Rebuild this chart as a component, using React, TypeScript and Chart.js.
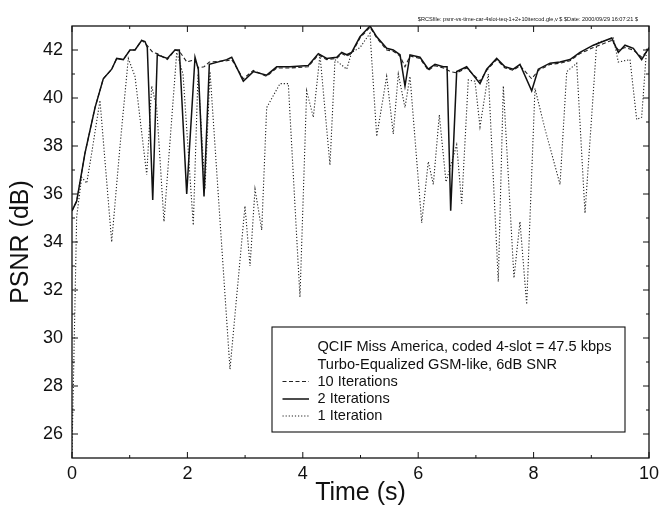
import React, { useEffect, useRef } from 'react';
import { Chart, registerables } from 'chart.js';

Chart.register(...registerables);

const FONT = "'Liberation Sans', Arial, Helvetica, sans-serif";
const INK = '#111';

// Axis ticks
const xTickValues = [0, 2, 4, 6, 8, 10];
const xMinorValues = [1, 3, 5, 7, 9];
const yTickValues = [26, 28, 30, 32, 34, 36, 38, 40, 42];
const yMinorValues = [27, 29, 31, 33, 35, 37, 39, 41];

// Texts
const headerText = '$RCSfile: psnr-vs-time-car-4slot-teq-1+2+10itercod.gle,v $ $Date: 2000/09/29 16:07:21 $';
const legendTitleLines = ['QCIF Miss America, coded 4-slot = 47.5 kbps', 'Turbo-Equalized GSM-like, 6dB SNR'];
const seriesLabels = ['10 Iterations', '2 Iterations', '1 Iteration'];

// 2 iterations (solid)
const time2 = [0, 0.081, 0.225, 0.399, 0.542, 0.688, 0.775, 0.889, 1.005, 1.092, 1.208, 1.265, 1.305, 1.399, 1.478, 1.652, 1.785, 1.86, 1.988, 2.132, 2.189, 2.288, 2.38, 2.681, 2.768, 2.969, 3.142, 3.374, 3.548, 3.778, 4.095, 4.269, 4.414, 4.588, 4.674, 4.761, 4.847, 4.991, 5.165, 5.281, 5.454, 5.568, 5.685, 5.771, 5.858, 6.031, 6.175, 6.291, 6.435, 6.5, 6.563, 6.667, 6.84, 7.071, 7.187, 7.36, 7.504, 7.648, 7.764, 7.967, 8.081, 8.284, 8.458, 8.631, 8.804, 9.035, 9.354, 9.468, 9.584, 9.728, 9.873, 10.0];
const psnr2 = [35.3, 35.7, 37.7, 39.6, 40.8, 41.2, 41.65, 41.6, 42.0, 42.0, 42.4, 42.35, 42.1, 35.75, 41.8, 41.65, 42.0, 42.0, 36.0, 41.7, 41.2, 35.9, 41.4, 41.6, 41.7, 40.7, 41.1, 40.95, 41.3, 41.3, 41.35, 41.85, 41.65, 41.7, 41.9, 41.8, 41.9, 42.55, 43.0, 42.55, 42.07, 42.0, 41.8, 40.5, 41.8, 41.7, 41.2, 41.4, 41.3, 41.3, 35.3, 41.1, 41.3, 40.6, 41.2, 41.65, 41.3, 41.2, 41.4, 40.3, 41.2, 41.45, 41.5, 41.6, 41.9, 42.2, 42.5, 41.9, 42.2, 42.07, 41.6, 42.1];

// 10 iterations (dashed)
const time10 = [0, 0.081, 0.225, 0.399, 0.542, 0.688, 0.775, 0.889, 1.005, 1.092, 1.208, 1.265, 1.4, 1.478, 1.652, 1.785, 1.86, 1.99, 2.132, 2.189, 2.288, 2.38, 2.681, 2.768, 2.969, 3.142, 3.374, 3.548, 3.778, 4.095, 4.269, 4.414, 4.588, 4.674, 4.761, 4.847, 4.991, 5.165, 5.281, 5.454, 5.568, 5.685, 5.771, 5.858, 6.031, 6.175, 6.291, 6.435, 6.563, 6.667, 6.84, 7.071, 7.187, 7.36, 7.504, 7.648, 7.764, 7.967, 8.081, 8.284, 8.458, 8.631, 8.804, 9.035, 9.354, 9.468, 9.584, 9.728, 9.873, 10.0];
const psnr10 = [35.3, 35.7, 37.7, 39.6, 40.8, 41.2, 41.65, 41.6, 42.0, 42.0, 42.4, 42.3, 41.9, 41.85, 41.6, 42.0, 41.95, 41.5, 41.6, 41.25, 41.3, 41.5, 41.55, 41.6, 40.8, 41.15, 40.9, 41.25, 41.25, 41.3, 41.8, 41.6, 41.65, 41.85, 41.75, 41.85, 42.5, 42.95, 42.5, 42.0, 41.95, 41.75, 41.3, 41.75, 41.65, 41.15, 41.35, 41.25, 41.1, 41.05, 41.25, 40.7, 41.15, 41.6, 41.25, 41.15, 41.35, 40.8, 41.15, 41.4, 41.45, 41.55, 41.85, 42.1, 42.4, 42.0, 42.1, 42.0, 41.7, 42.05];

// 1 iteration (dotted)
const time1 = [0, 0.081, 0.168, 0.255, 0.341, 0.485, 0.688, 0.832, 0.976, 1.092, 1.295, 1.381, 1.468, 1.594, 1.815, 1.924, 2.102, 2.184, 2.305, 2.392, 2.738, 2.998, 3.085, 3.172, 3.288, 3.374, 3.605, 3.749, 3.951, 4.067, 4.182, 4.298, 4.471, 4.558, 4.761, 4.847, 4.991, 5.165, 5.281, 5.454, 5.568, 5.655, 5.771, 5.858, 6.061, 6.175, 6.262, 6.366, 6.482, 6.667, 6.754, 6.868, 6.984, 7.071, 7.215, 7.388, 7.475, 7.66, 7.764, 7.88, 8.024, 8.198, 8.458, 8.574, 8.747, 8.891, 9.094, 9.382, 9.468, 9.671, 9.787, 9.873, 9.96];
const psnr1 = [25.2, 35.05, 36.7, 36.45, 37.7, 39.9, 34.0, 38.0, 41.65, 40.9, 36.8, 40.5, 39.6, 34.85, 41.9, 41.0, 34.7, 41.0, 36.2, 41.1, 28.7, 35.5, 33.0, 36.2, 34.5, 39.6, 40.6, 40.6, 31.7, 40.3, 39.2, 41.8, 37.2, 41.6, 41.2, 41.9, 42.1, 42.7, 38.4, 40.9, 38.5, 41.0, 39.6, 40.9, 34.8, 37.35, 36.4, 39.3, 36.5, 38.05, 35.6, 40.75, 40.7, 38.8, 41.0, 32.35, 40.5, 32.5, 34.85, 31.4, 40.4, 38.7, 36.4, 41.1, 41.45, 35.2, 42.3, 42.5, 41.5, 41.6, 39.1, 39.2, 42.1];

const toPoints = (xs: number[], ys: number[]) => xs.map((x, i) => ({ x, y: ys[i] }));

const framePlugin = {
  id: 'framePlugin',
  afterDatasetsDraw(chart: any) {
    const { ctx, chartArea: a, scales } = chart;
    const xs = scales.x;
    const ys = scales.y;
    ctx.save();
    ctx.setLineDash([]);
    ctx.strokeStyle = INK;
    ctx.lineWidth = 1.3;
    ctx.strokeRect(a.left, a.top, a.right - a.left, a.bottom - a.top);

    const seg = (x1: number, y1: number, x2: number, y2: number) => {
      ctx.beginPath();
      ctx.moveTo(x1, y1);
      ctx.lineTo(x2, y2);
      ctx.stroke();
    };
    ctx.lineWidth = 1;
    const major = 6;
    const minor = 3;
    xTickValues.forEach((v) => {
      const p = xs.getPixelForValue(v);
      seg(p, a.bottom, p, a.bottom - major);
      seg(p, a.top, p, a.top + major);
    });
    xMinorValues.forEach((v) => {
      const p = xs.getPixelForValue(v);
      seg(p, a.bottom, p, a.bottom - minor);
      seg(p, a.top, p, a.top + minor);
    });
    yTickValues.forEach((v) => {
      const p = ys.getPixelForValue(v);
      seg(a.left, p, a.left + major, p);
      seg(a.right, p, a.right - major, p);
    });
    yMinorValues.forEach((v) => {
      const p = ys.getPixelForValue(v);
      seg(a.left, p, a.left + minor, p);
      seg(a.right, p, a.right - minor, p);
    });

    // Legend box
    const bx = a.left + 200;
    const by = a.top + 301;
    const bw = 353;
    const bh = 105;
    ctx.fillStyle = '#fff';
    ctx.fillRect(bx, by, bw, bh);
    ctx.lineWidth = 1.1;
    ctx.strokeStyle = INK;
    ctx.strokeRect(bx, by, bw, bh);

    ctx.fillStyle = INK;
    ctx.font = `14.6px ${FONT}`;
    ctx.textBaseline = 'middle';
    ctx.textAlign = 'left';
    const rowY = [20, 37.5, 54.5, 72, 89];
    const textX = bx + 45.5;
    legendTitleLines.forEach((t, i) => ctx.fillText(t, textX, by + rowY[i]));
    const ds = chart.data.datasets;
    seriesLabels.forEach((t, i) => {
      const d = ds.find((q: any) => q.label === t);
      const y = by + rowY[i + 2];
      ctx.save();
      ctx.strokeStyle = d.borderColor;
      ctx.lineWidth = d.borderWidth;
      ctx.setLineDash(d.borderDash || []);
      seg(bx + 10.5, y, bx + 37, y);
      ctx.restore();
      ctx.fillText(t, textX, y);
    });

    // header
    ctx.font = `5.6px ${FONT}`;
    ctx.textAlign = 'right';
    ctx.textBaseline = 'middle';
    ctx.fillText(headerText, a.right - 11, a.top - 6.5);
    ctx.restore();
  },
};

export default function App() {
  const ref = useRef<HTMLCanvasElement | null>(null);
  useEffect(() => {
    if (!ref.current) return;
    const chart = new Chart(ref.current, {
      type: 'line',
      data: {
        datasets: [
          {
            label: seriesLabels[1],
            data: toPoints(time2, psnr2),
            borderColor: INK,
            borderWidth: 1.5,
            borderDash: [],
            pointRadius: 0,
            tension: 0,
            fill: false,
            order: 1,
          },
          {
            label: seriesLabels[0],
            data: toPoints(time10, psnr10),
            borderColor: '#222',
            borderWidth: 1.1,
            borderDash: [4, 2.5],
            pointRadius: 0,
            tension: 0,
            fill: false,
            order: 2,
          },
          {
            label: seriesLabels[2],
            data: toPoints(time1, psnr1),
            borderColor: '#222',
            borderWidth: 1.1,
            borderDash: [1.2, 1.9],
            pointRadius: 0,
            tension: 0,
            fill: false,
            order: 3,
          },
        ],
      },
      options: {
        animation: false,
        responsive: false,
        maintainAspectRatio: false,
        layout: { padding: { left: 0, top: 26, right: 19, bottom: 0 } },
        plugins: {
          legend: { display: false },
          tooltip: { enabled: false },
          title: { display: false },
        },
        scales: {
          x: {
            type: 'linear',
            min: 0,
            max: 10,
            grid: { display: false, drawTicks: false },
            border: { display: false },
            ticks: {
              font: { family: FONT, size: 18 },
              color: INK,
              padding: 5,
              maxRotation: 0,
              autoSkip: false,
            },
            afterBuildTicks: (s: any) => {
              s.ticks = xTickValues.map((v) => ({ value: v }));
            },
            afterFit: (s: any) => {
              s.height = 50;
            },
            title: {
              display: true,
              text: 'Time (s)',
              color: INK,
              font: { family: FONT, size: 25 },
              padding: { top: 0, bottom: 0 },
            },
          },
          y: {
            type: 'linear',
            min: 25,
            max: 43,
            grid: { display: false, drawTicks: false },
            border: { display: false },
            ticks: {
              font: { family: FONT, size: 18 },
              color: INK,
              padding: 9,
              autoSkip: false,
            },
            afterBuildTicks: (s: any) => {
              s.ticks = yTickValues.map((v) => ({ value: v }));
            },
            afterFit: (s: any) => {
              s.width = 72;
            },
            title: {
              display: true,
              text: 'PSNR (dB)',
              color: INK,
              font: { family: FONT, size: 25 },
              padding: { top: 6, bottom: 0 },
            },
          },
        },
      },
      plugins: [framePlugin],
    } as any);
    return () => chart.destroy();
  }, []);
  return (
    <div style={{ position: 'fixed', left: 0, top: 0, width: 668, height: 508, background: '#fff' }}>
      <canvas ref={ref} width={668} height={508} style={{ display: 'block' }} />
    </div>
  );
}
